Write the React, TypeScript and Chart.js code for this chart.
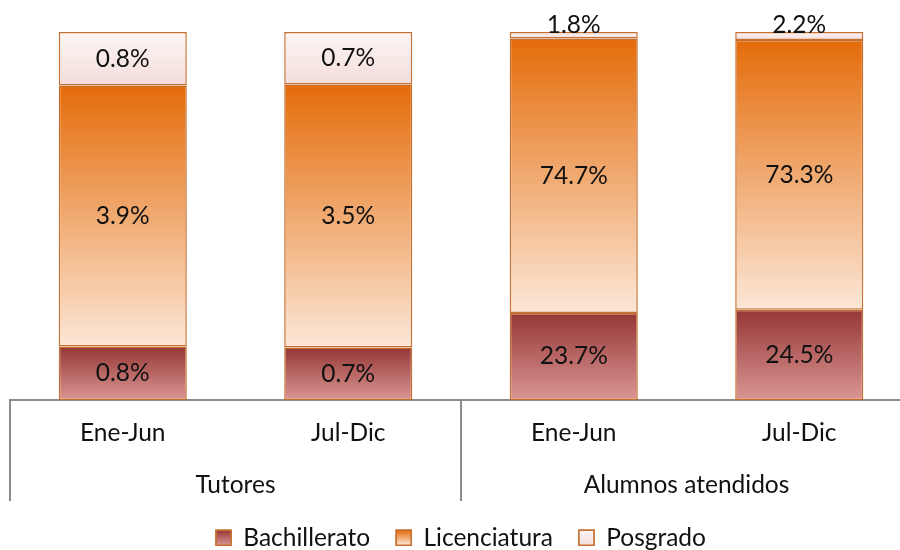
import React, { useEffect, useRef } from "react";
import { Chart, registerables } from "chart.js";

Chart.register(...registerables);

const categories = ["Ene-Jun", "Jul-Dic", "Ene-Jun", "Jul-Dic"];
const groupLabels = ["Tutores", "Alumnos atendidos"];
const groupSizes = [2, 2];
const seriesNames = ["Bachillerato", "Licenciatura", "Posgrado"];
const bachillerato = [0.8, 0.7, 23.7, 24.5];
const licenciatura = [3.9, 3.5, 74.7, 73.3];
const posgrado = [0.8, 0.7, 1.8, 2.2];

const FONT = "Lato, 'Open Sans', sans-serif";
const FS = 24.5;
const BOX = 15;
const PAD_BOTTOM = -10;

const raw = [bachillerato, licenciatura, posgrado];
const totals = categories.map((_, i) => raw.reduce((s, arr) => s + arr[i], 0));
const shares = raw.map((arr) => arr.map((v, i) => (v / totals[i]) * 100));

const gradStops: [string, string][] = [
  ["rgb(149,55,53)", "rgb(218,150,148)"],
  ["rgb(228,108,10)", "rgb(252,231,215)"],
  ["rgb(253,246,243)", "rgb(242,220,219)"],
];
const legendFill = ["rgb(183,100,98)", "rgb(240,160,100)", "rgb(250,236,233)"];
const borderCol = "rgb(197,112,48)";
const axisCol = "rgb(140,140,140)";

function segmentBounds(chart: any, d: number, i: number) {
  const y = chart.scales.y;
  let start = 0;
  for (let k = 0; k < d; k++) start += shares[k][i];
  const end = start + shares[d][i];
  return { top: y.getPixelForValue(end), bottom: y.getPixelForValue(start) };
}

const overlayPlugin = {
  id: "overlay",
  afterDatasetsDraw(chart: any) {
    const ctx = chart.ctx;
    ctx.save();
    ctx.font = `${FS}px ${FONT}`;
    ctx.fillStyle = "#111";
    ctx.textAlign = "center";
    for (let d = 0; d < raw.length; d++) {
      const meta = chart.getDatasetMeta(d);
      meta.data.forEach((bar: any, i: number) => {
        const { top, bottom } = segmentBounds(chart, d, i);
        const h = bottom - top;
        const text = raw[d][i].toFixed(1) + "%";
        if (h < 20) {
          ctx.textBaseline = "alphabetic";
          ctx.fillText(text, bar.x, top + 1);
        } else {
          ctx.textBaseline = "middle";
          ctx.fillText(text, bar.x, (top + bottom) / 2);
        }
      });
    }
    ctx.restore();
  },
  afterDraw(chart: any) {
    const ctx = chart.ctx;
    const xs = chart.scales.x;
    const area = chart.chartArea;
    const n = categories.length;
    const step = (xs.right - xs.left) / n;
    ctx.save();
    ctx.strokeStyle = axisCol;
    ctx.lineWidth = 2;
    let idx = 0;
    const bounds = [xs.left];
    groupSizes.forEach((s) => {
      idx += s;
      bounds.push(xs.left + idx * step);
    });
    bounds.forEach((bx) => {
      ctx.beginPath();
      ctx.moveTo(Math.round(bx), area.bottom);
      ctx.lineTo(Math.round(bx), area.bottom + 101);
      ctx.stroke();
    });
    ctx.font = `${FS}px ${FONT}`;
    ctx.fillStyle = "#111";
    ctx.textAlign = "center";
    ctx.textBaseline = "middle";
    groupLabels.forEach((g, k) => {
      const cx = (bounds[k] + bounds[k + 1]) / 2;
      ctx.fillText(g, cx, area.bottom + 85);
    });
    const lg = chart.legend;
    if (lg && lg.legendHitBoxes) {
      lg.legendHitBoxes.forEach((hb: any, d: number) => {
        const bx = hb.left;
        const by = hb.top + Math.max((FS - BOX) / 2, 0);
        const g = ctx.createLinearGradient(0, by, 0, by + BOX);
        g.addColorStop(0, gradStops[d][0]);
        g.addColorStop(1, gradStops[d][1]);
        ctx.fillStyle = g;
        ctx.fillRect(bx, by, BOX, BOX);
        ctx.strokeStyle = borderCol;
        ctx.lineWidth = 1.5;
        ctx.strokeRect(bx, by, BOX, BOX);
      });
    }
    ctx.restore();
  },
};

export default function App() {
  const ref = useRef<HTMLCanvasElement | null>(null);
  useEffect(() => {
    if (!ref.current) return;
    const chart = new Chart(ref.current, {
      type: "bar",
      data: {
        labels: categories,
        datasets: seriesNames.map((name, d) => ({
          label: name,
          data: shares[d],
          backgroundColor: (c: any) => {
            if (c.type !== "data") return legendFill[d];
            const ch = c.chart;
            if (!ch.chartArea) return legendFill[d];
            const { top, bottom } = segmentBounds(ch, d, c.dataIndex);
            const g = ch.ctx.createLinearGradient(0, top, 0, bottom);
            g.addColorStop(0, gradStops[d][0]);
            g.addColorStop(1, gradStops[d][1]);
            return g;
          },
          borderColor: borderCol,
          borderWidth: 1.5,
          borderSkipped: false,
          barPercentage: 0.568,
          categoryPercentage: 1,
        })),
      },
      options: {
        animation: false,
        responsive: true,
        maintainAspectRatio: false,
        layout: { padding: { left: 10, right: 8, top: 32, bottom: PAD_BOTTOM } },
        scales: {
          x: {
            stacked: true,
            offset: true,
            grid: { display: false, drawTicks: false },
            border: { display: true, color: axisCol, width: 2 },
            ticks: { font: { family: FONT, size: FS }, color: "#111", padding: 18, maxRotation: 0 },
            afterFit: (scale: any) => {
              const lh = scale.chart.legend ? scale.chart.legend.height : 30;
              scale.height = 550 - PAD_BOTTOM - 400 - lh;
            },
          },
          y: {
            stacked: true,
            display: false,
            min: 0,
            max: 100,
          },
        },
        plugins: {
          legend: {
            position: "bottom",
            labels: {
              font: { family: FONT, size: FS },
              color: "#111",
              boxWidth: BOX,
              boxHeight: BOX,
              padding: 26,
              generateLabels: () =>
                seriesNames.map((name, d) => ({
                  text: name,
                  fillStyle: legendFill[d],
                  strokeStyle: borderCol,
                  lineWidth: 1.5,
                  datasetIndex: d,
                  fontColor: "#111",
                })),
            },
          },
          tooltip: { enabled: false },
        },
      },
      plugins: [overlayPlugin],
    });
    return () => chart.destroy();
  }, []);
  return (
    <div style={{ position: "fixed", left: 0, top: 0, width: 900, height: 550, overflow: "hidden", background: "#fff" }}>
      <div style={{ position: "relative", width: 920, height: 550 }}>
        <canvas ref={ref} />
      </div>
    </div>
  );
}
